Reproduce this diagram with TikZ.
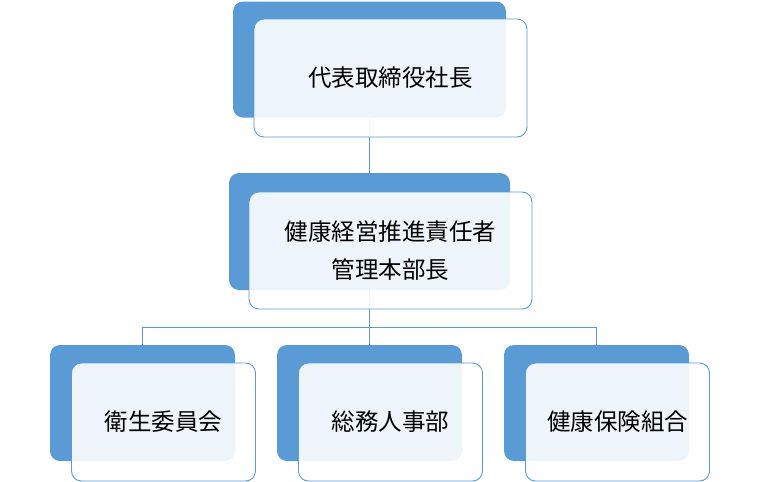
\documentclass[tikz,border=0pt]{standalone}
\usepackage{fontspec}
\setmainfont{Noto Sans CJK JP}
\usepackage{tikz}
\usetikzlibrary{positioning, backgrounds}
\definecolor{orgblue}{HTML}{5B9BD5}
\tikzset{
	backbox/.style={draw=none, fill=orgblue, rounded corners=10pt, inner sep=0pt}
}
\tikzset{
	frontbox/.style={draw=orgblue, line width=0.9pt, fill=white, fill opacity=0.9,
		text opacity=1, rounded corners=10pt, align=center,
		font=\fontsize{23.5}{38}\selectfont}
}
\tikzset{
	link/.style={draw=orgblue, line width=0.9pt}
}

\begin{document}
\begin{tikzpicture}[x=1pt, y=-1pt]
      \useasboundingbox (0,0) rectangle (758,482);
      % back boxes
      \node[backbox, minimum width=273pt, minimum height=116pt] (ceoback) at (369.5,59.5) {};
      \node[backbox, minimum width=281pt, minimum height=117pt] (mgrback) at (369.5,231.5) {};
      \foreach \n/\x in {eiseiback/142.5, soumuback/369.5, kenpoback/596.5}
        \node[backbox, minimum width=185pt, minimum height=116pt] (\n) at (\x,403) {};
      % connectors
      \coordinate (bus) at (369.5,327);
      \begin{pgfonlayer}{background}
        \draw[link] (ceoback.south) -- (mgrback.north);
        \draw[link] (mgrback.south) -- (bus);
        \foreach \n in {eiseiback, soumuback, kenpoback}
          \draw[link] (bus) -| (\n.north);
      \end{pgfonlayer}
      % front boxes
      \node[frontbox, minimum width=273pt, minimum height=118pt, xshift=21pt, yshift=-18.5pt]
        (ceo) at (ceoback.center) {代表取締役社長};
      \node[frontbox, minimum width=283pt, minimum height=117pt, xshift=21pt, yshift=-19pt]
        (mgr) at (mgrback.center) {健康経営推進責任者\\管理本部長};
      \foreach \n/\t in {eisei/衛生委員会, soumu/総務人事部, kenpo/健康保険組合}
        \node[frontbox, minimum width=184pt, minimum height=118pt, xshift=21pt, yshift=-19pt]
          (\n) at (\n back.center) {\t};
\end{tikzpicture}
\end{document}
